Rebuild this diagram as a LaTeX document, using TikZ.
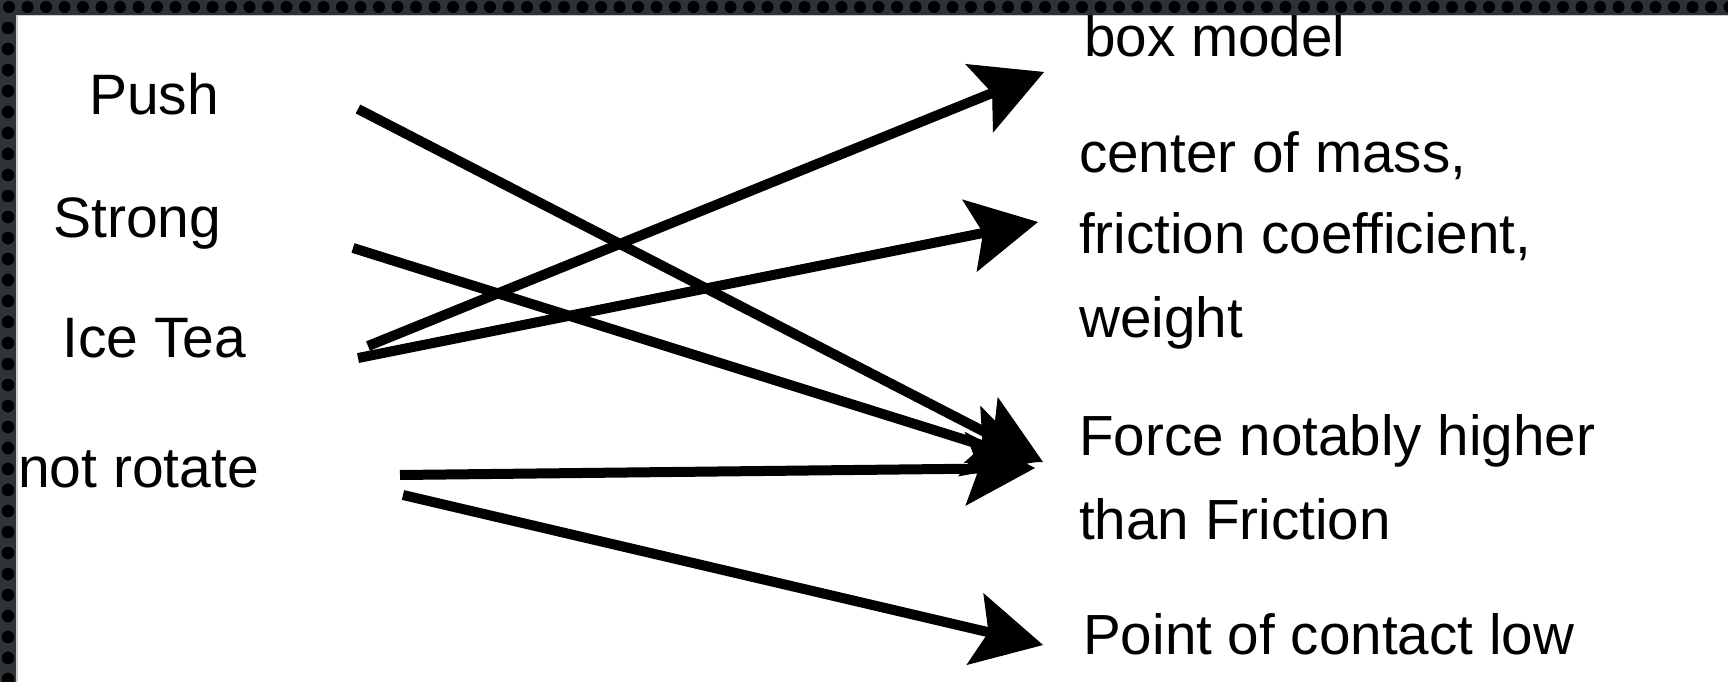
\documentclass[tikz,border=0pt]{standalone}
\usepackage{fontspec}
\setmainfont{Liberation Sans}
\usetikzlibrary{arrows.meta}
\definecolor{framegray}{HTML}{2E3338}
\begin{document}
\begin{tikzpicture}[x=1pt,y=-1pt,
  lbl/.style={anchor=base west, inner sep=0pt, font=\fontsize{56.6}{68}\selectfont},
  leftlbl/.style={lbl, font=\fontsize{57}{68}\selectfont},
  link/.style={line width=10pt, -{Stealth[length=70pt,width=74pt,inset=14pt,line width=1pt]}}]
\useasboundingbox (0,0) rectangle (1728,682);
\fill[white] (0,0) rectangle (1728,682);

% perforated frame along the top and left edges
\fill[framegray] (0,0) rectangle (1728,15);
\fill[framegray] (0,0) rectangle (16,682);
\foreach \i in {0,...,93} \fill[black] (9+18.5*\i,7) circle (6);
\foreach \j in {1,...,32} \fill[black] (8,7+21*\j) circle (6.3);
\draw[gray!40, line width=1.5pt] (16,15.75) -- (1728,15.75);
\draw[gray!40, line width=1.5pt] (16.75,15) -- (16.75,682);

% observations
\node[leftlbl] (push)   at (89,115)  {Push};
\node[leftlbl] (strong) at (53,237)  {Strong};
\node[leftlbl] (icetea) at (62,357)  {Ice Tea};
\node[leftlbl] (notrot) at (18,487)  {not rotate};

% explanations
\node[lbl] (box)    at (1084,57)  {box model};
\node[lbl] (com)    at (1079,172) {center of mass,};
\node[lbl] (fric)   at (1079,253) {friction coefficient,};
\node[lbl] (weight) at (1079,337) {weight};
\node[lbl] (force)  at (1079,455) {Force notably higher};
\node[lbl] (than)   at (1079,539) {than Friction};
\node[lbl] (poc)    at (1083,654) {Point of contact low};

% connector end points
\coordinate (pushOut)   at (358,109);
\coordinate (strongOut) at (353,248);
\coordinate (iceOutA)   at (368,346);
\coordinate (iceOutB)   at (358,358);
\coordinate (rotOutA)   at (400,475);
\coordinate (rotOutB)   at (403,495);

\coordinate (boxIn)    at (1044,72);
\coordinate (comIn)    at (1038,222);
\coordinate (forceInA) at (1043,462);
\coordinate (forceInB) at (1036,462);
\coordinate (forceInC) at (1035,468);
\coordinate (pocIn)    at (1043,645);

\draw[link] (pushOut)   -- (forceInA);
\draw[link] (strongOut) -- (forceInB);
\draw[link] (iceOutA)   -- (boxIn);
\draw[link] (iceOutB)   -- (comIn);
\draw[link] (rotOutA)   -- (forceInC);
\draw[link] (rotOutB)   -- (pocIn);
\end{tikzpicture}
\end{document}
